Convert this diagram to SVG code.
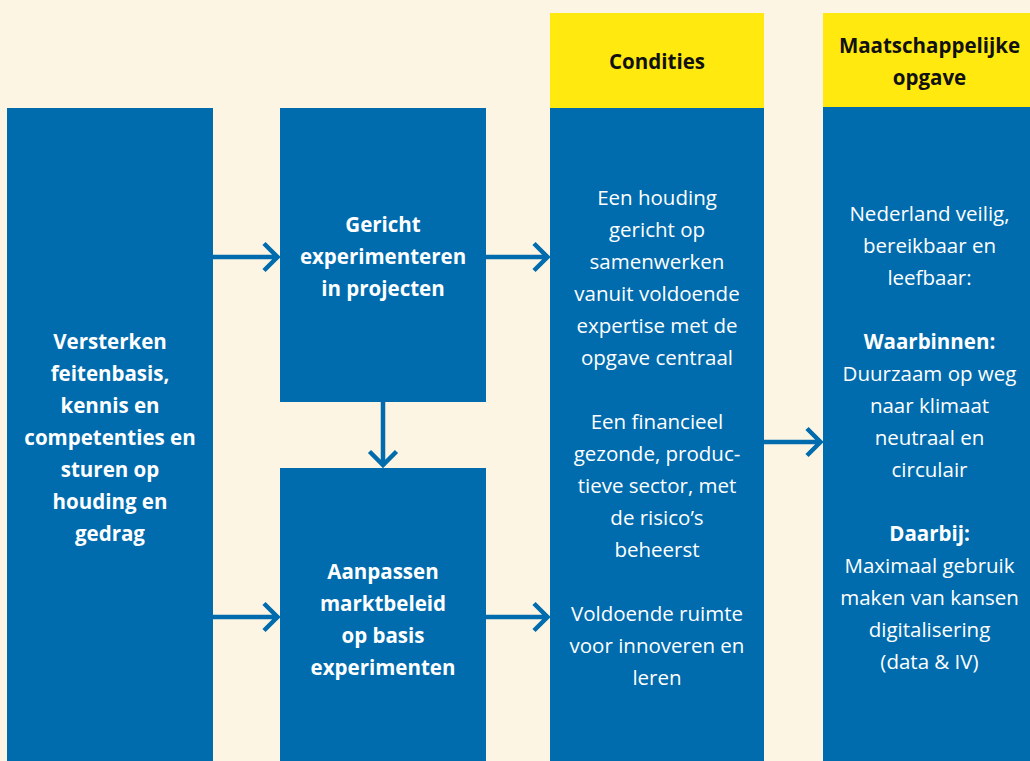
<svg xmlns="http://www.w3.org/2000/svg" width="1030" height="761" viewBox="0 0 1030 761">
<style>
.bg{fill:#FDF5E4}
.box{fill:#006CAE}
.hdr{fill:#FFE90F}
.t{font-family:"Open Sans","Noto Sans",sans-serif;font-size:20.5px;fill:#FFFFFF;text-anchor:middle}
.b{font-weight:bold}
.h{font-family:"Open Sans","Noto Sans",sans-serif;font-size:20.5px;font-weight:bold;fill:#111111;text-anchor:middle}
.c{fill:none;stroke:#006CAE;stroke-width:4.5;stroke-linecap:butt;stroke-linejoin:miter}
</style>
<rect class="bg" x="0" y="0" width="1030" height="761"/>
<g id="node-versterken">
<rect class="box" x="7" y="108" width="206" height="653"/>
<text class="t b" x="110"><tspan x="110" y="349">Versterken</tspan><tspan x="110" y="381">feitenbasis,</tspan><tspan x="110" y="413">kennis en</tspan><tspan x="110" y="445">competenties en</tspan><tspan x="110" y="477">sturen op</tspan><tspan x="110" y="509">houding en</tspan><tspan x="110" y="541">gedrag</tspan></text>
</g>
<g id="node-gericht">
<rect class="box" x="280" y="108" width="206" height="294"/>
<text class="t b"><tspan x="383" y="232">Gericht</tspan><tspan x="383" y="264">experimenteren</tspan><tspan x="383" y="296">in projecten</tspan></text>
</g>
<g id="node-aanpassen">
<rect class="box" x="280" y="468" width="206" height="293"/>
<text class="t b"><tspan x="383" y="579">Aanpassen</tspan><tspan x="383" y="611">marktbeleid</tspan><tspan x="383" y="643">op basis</tspan><tspan x="383" y="675">experimenten</tspan></text>
</g>
<g id="node-condities">
<rect class="hdr" x="550" y="13" width="214" height="95"/>
<text class="h" x="657" y="69">Condities</text>
<rect class="box" x="550" y="108" width="214" height="653"/>
<text class="t"><tspan x="657" y="205">Een houding</tspan><tspan x="657" y="237">gericht op</tspan><tspan x="657" y="269">samenwerken</tspan><tspan x="657" y="301">vanuit voldoende</tspan><tspan x="657" y="333">expertise met de</tspan><tspan x="657" y="365">opgave centraal</tspan><tspan x="657" y="429">Een financieel</tspan><tspan x="657" y="461">gezonde, produc-</tspan><tspan x="657" y="493">tieve sector, met</tspan><tspan x="657" y="525">de risico’s</tspan><tspan x="657" y="557">beheerst</tspan><tspan x="657" y="621">Voldoende ruimte</tspan><tspan x="657" y="653">voor innoveren en</tspan><tspan x="657" y="685">leren</tspan></text>
</g>
<g id="node-opgave">
<rect class="hdr" x="823" y="13" width="207" height="95"/>
<text class="h"><tspan x="929.5" y="53">Maatschappelijke</tspan><tspan x="929.5" y="85">opgave</tspan></text>
<rect class="box" x="823" y="107" width="207" height="654"/>
<text class="t"><tspan x="929.5" y="221">Nederland veilig,</tspan><tspan x="929.5" y="253">bereikbaar en</tspan><tspan x="929.5" y="285">leefbaar:</tspan><tspan x="929.5" y="349" class="b">Waarbinnen:</tspan><tspan x="929.5" y="381">Duurzaam op weg</tspan><tspan x="929.5" y="413">naar klimaat</tspan><tspan x="929.5" y="445">neutraal en</tspan><tspan x="929.5" y="477">circulair</tspan><tspan x="929.5" y="541" class="b">Daarbij:</tspan><tspan x="929.5" y="573">Maximaal gebruik</tspan><tspan x="929.5" y="605">maken van kansen</tspan><tspan x="929.5" y="637">digitalisering</tspan><tspan x="929.5" y="669">(data &amp; IV)</tspan></text>
</g>
<g id="connectors">
<path class="c" d="M213 257 H277 M264 243.5 L277.5 257 L264 270.5"/>
<path class="c" d="M486 257 H547 M534 243.5 L547.5 257 L534 270.5"/>
<path class="c" d="M213 617 H277 M264 603.5 L277.5 617 L264 630.5"/>
<path class="c" d="M486 617 H547 M534 603.5 L547.5 617 L534 630.5"/>
<path class="c" d="M764 442 H820 M807 428.5 L820.5 442 L807 455.5"/>
<path class="c" d="M383 402 V465 M369.5 451.5 L383 465 L396.5 451.5"/>
</g>
</svg>
